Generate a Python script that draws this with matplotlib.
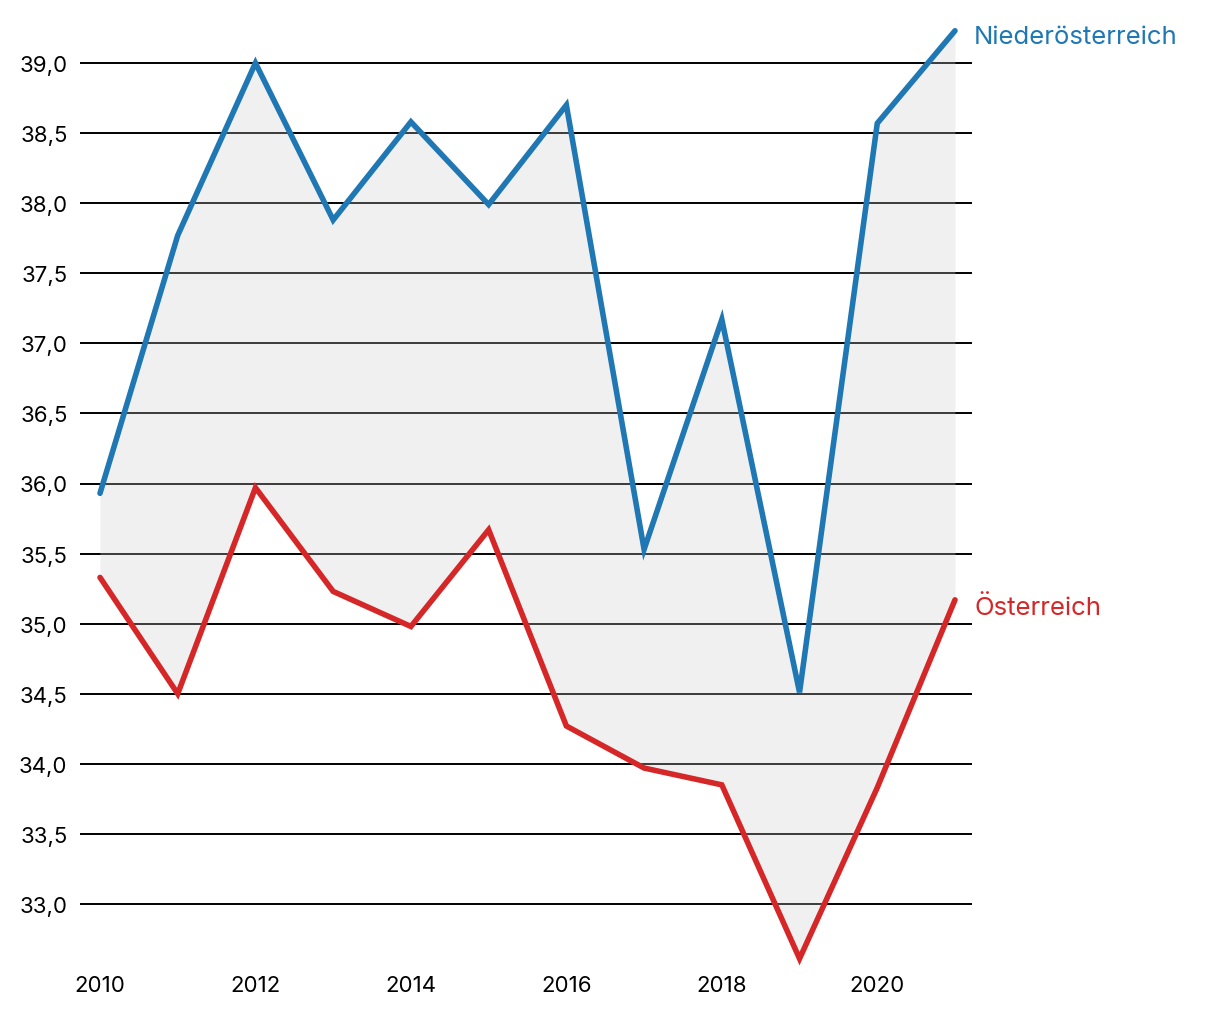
import matplotlib
matplotlib.use("Agg")
import matplotlib.pyplot as plt

years = [2010, 2011, 2012, 2013, 2014, 2015, 2016, 2017, 2018, 2019, 2020, 2021]
noe = [35.93, 37.77, 39.00, 37.88, 38.58, 37.99, 38.70, 35.53, 37.17, 34.51, 38.57, 39.23]
oe = [35.33, 34.50, 35.97, 35.23, 34.98, 35.67, 34.27, 33.97, 33.85, 32.61, 33.83, 35.17]
yticks = [33.0, 33.5, 34.0, 34.5, 35.0, 35.5, 36.0, 36.5, 37.0, 37.5, 38.0, 38.5, 39.0]
xticks = [2010, 2012, 2014, 2016, 2018, 2020]
names = ["Niederösterreich", "Österreich"]
blue = "#1f77b4"
red = "#d62728"

plt.rcParams['font.family'] = ['Inter', 'DejaVu Sans']

W, H = 1220, 1020
fig = plt.figure(figsize=(W/100, H/100), dpi=100)
left_px, right_px, top_px, bot_px = 80, 972, 25, 965
ax = fig.add_axes([left_px/W, 1-bot_px/H, (right_px-left_px)/W, (bot_px-top_px)/H])

ppy = (955-100)/11
ax.set_xlim(2010 - 20/ppy, 2021 + 17/ppy)
ppu = (905-64)/6
ax.set_ylim(39 - (bot_px-64)/ppu, 39 + (64-top_px)/ppu)

for yt in yticks:
    ax.axhline(yt, color="black", lw=1.4, zorder=1)

ax.fill_between(years, noe, oe, color=(0.8, 0.8, 0.8), alpha=0.29, lw=0, zorder=2)
ax.plot(years, noe, color=blue, lw=4, zorder=3, clip_on=False, solid_capstyle='round', solid_joinstyle='miter')
ax.plot(years, oe, color=red, lw=4, zorder=3, clip_on=False, solid_capstyle='round', solid_joinstyle='miter')

ax.annotate(names[0], (years[-1], noe[-1]), xytext=(19, -6), textcoords='offset pixels',
            color=blue, fontsize=18.5, va='center', ha='left', annotation_clip=False)
ax.annotate(names[1], (years[-1], oe[-1]), xytext=(19, -7), textcoords='offset pixels',
            color=red, fontsize=18.5, va='center', ha='left', annotation_clip=False)

ax.set_yticks(yticks)
ax.set_yticklabels([f"{v:.1f}".replace(".", ",") for v in yticks])
ax.set_xticks(xticks)
ax.set_xticklabels([str(x) for x in xticks])
ax.tick_params(axis='y', length=0, pad=9, labelsize=16, colors='black')
ax.tick_params(axis='x', length=0, pad=8, labelsize=16, colors='black')
for s in ax.spines.values():
    s.set_visible(False)
ax.set_facecolor('white')

fig.savefig("out.png", dpi=100)
